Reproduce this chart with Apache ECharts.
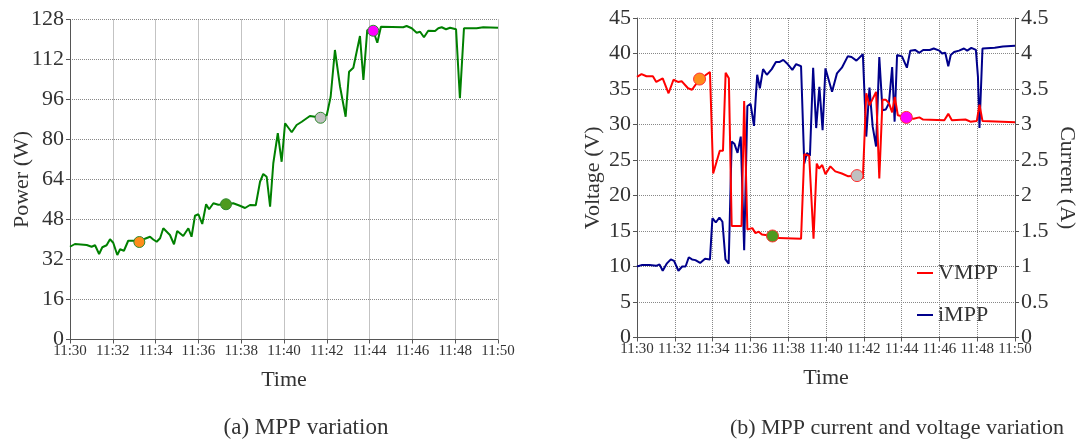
<!DOCTYPE html>
<html>
<head>
<meta charset="utf-8">
<script src="https://cdn.jsdelivr.net/npm/echarts@6/dist/echarts.min.js"></script>
<style>html,body{margin:0;padding:0;background:#fff}#c{width:1079px;height:440px}</style>
</head>
<body>
<div id="c"></div>
<script>
// minutes after 11:30
const xTicks = [0,2,4,6,8,10,12,14,16,18,20];
const powerTime = [0,0.23,0.78,1.01,1.17,1.36,1.51,1.71,1.87,2.02,2.21,2.34,2.52,2.72,2.96,3.24,3.5,3.74,3.89,4.05,4.21,4.36,4.67,4.86,5.01,5.29,5.53,5.68,5.84,6.0,6.18,6.36,6.5,6.7,6.93,7.29,7.63,7.94,8.18,8.41,8.68,8.88,9.03,9.19,9.35,9.5,9.71,9.89,10.05,10.36,10.59,10.83,11.21,11.45,11.71,12.0,12.18,12.38,12.62,12.88,13.04,13.24,13.55,13.71,13.89,14.17,14.36,14.53,15.57,15.73,15.97,16.2,16.36,16.54,16.74,17.06,17.21,17.37,17.57,17.76,18.04,18.22,18.41,19.0,19.31,20];
const power = [37.1,38.2,37.8,37.1,37.7,34.2,36.9,37.7,40.1,38.7,33.8,36.1,35.5,39.5,39.5,39.0,40.3,41.1,40.0,39.1,40.5,44.5,41.8,38.1,43.4,41.4,44.5,41.1,49.5,50.1,46.2,54.1,52.1,54.5,53.9,54.1,54.5,53.5,52.6,53.8,53.7,63.1,66.2,65.1,53.1,70.5,82.5,71.1,86.5,82.9,85.8,87.1,89.4,89.1,88.7,89.8,97.1,115.8,101.1,89.1,107.1,108.7,121.4,103.8,123.8,123.5,118.7,125.1,124.9,125.4,124.5,122.7,123.1,120.9,123.5,123.4,124.5,124.9,124.1,124.7,124.1,96.5,124.5,124.5,124.9,124.7];

const vTime = [0,0.24,0.5,0.84,1.02,1.36,1.67,1.93,2.17,2.36,2.7,2.91,3.31,3.6,3.86,4.03,4.38,4.55,4.69,4.86,5.01,5.53,5.67,5.84,6.1,6.27,6.44,6.61,7.17,7.48,8.68,8.85,9.11,9.34,9.51,9.63,9.8,9.97,10.23,10.49,10.84,11.18,11.64,11.95,12.13,12.3,12.65,12.82,12.99,13.16,13.33,13.5,13.64,13.8,14.25,14.63,14.94,15.14,16.26,16.47,16.66,17.38,17.64,17.98,18.12,18.28,20];
const vmpp = [36.7,37.1,36.8,36.8,36.0,36.5,34.4,36.3,36.0,36.1,35.1,34.9,36.4,36.9,37.4,23.1,26.3,26.3,37.3,36.5,15.7,15.7,33.3,15.2,15.4,14.7,14.9,14.5,14.3,14.0,13.9,25.8,25.6,13.9,24.5,23.8,24.3,23.0,24.1,23.4,23.1,22.7,22.8,22.4,34.4,32.7,34.6,22.4,33.5,33.5,33.0,31.7,33.9,31.3,31.0,30.8,31.0,30.7,30.6,31.5,30.6,30.7,30.4,30.5,32.8,30.5,30.3];

const iTime = [0,0.24,0.67,1.02,1.19,1.36,1.57,1.79,1.96,2.19,2.39,2.57,2.74,2.91,3.09,3.34,3.6,3.86,3.99,4.17,4.36,4.52,4.68,4.85,5.01,5.15,5.32,5.49,5.67,5.84,6.01,6.19,6.36,6.5,6.67,6.87,7.13,7.35,7.53,7.74,7.94,8.22,8.42,8.68,8.85,8.99,9.15,9.32,9.48,9.65,9.82,9.97,10.32,10.58,10.84,11.15,11.35,11.61,11.95,12.13,12.3,12.47,12.65,12.82,12.99,13.16,13.33,13.5,13.63,13.76,14.02,14.28,14.46,14.71,14.94,15.14,15.49,15.7,16.0,16.14,16.31,16.47,16.6,16.78,17.04,17.3,17.47,17.69,17.93,18.04,18.12,18.28,18.93,19.36,20];
const impp = [1.00,1.02,1.02,1.01,1.03,0.94,1.04,1.10,1.08,0.94,1.00,1.00,1.13,1.10,1.09,1.05,1.11,1.10,1.68,1.62,1.69,1.63,1.10,1.04,2.76,2.73,2.60,2.83,1.23,3.26,3.29,2.98,3.70,3.51,3.78,3.70,3.78,3.88,3.88,3.91,3.86,3.77,3.85,3.82,2.45,2.60,2.56,3.80,2.95,3.53,2.92,3.79,3.46,3.72,3.80,3.96,3.95,3.90,3.99,2.83,3.52,2.97,2.69,3.95,3.20,3.21,3.30,3.81,3.04,3.98,3.96,3.80,4.04,4.05,4.01,4.05,4.05,4.07,4.04,4.00,4.01,3.82,3.98,4.02,4.04,4.07,4.04,4.08,4.05,3.67,2.95,4.07,4.08,4.10,4.11];

const markerColors = ['#ff8c1a','#4e9a1f','#c0c0c0','#ff00ff'];
const pMarkTime = [3.24,7.29,11.71,14.17];
const pMarkVal = [39.0,54.1,88.7,123.5];
const vMarkTime = [3.31,7.17,11.64,14.25];
const vMarkVal = [36.4,14.3,22.8,31.0];

const FONT = 'Liberation Serif';
const TXT = '#333';
const zip = (a,b) => a.map((v,i)=>[v,b[i]]);
const fmtTime = v => { const m = 30 + v; return '11:' + (m < 10 ? '0'+m : m); };

const grid = [
  {left:70, top:19.5, width:428, height:320},
  {left:637, top:18, width:386, height:319.5}
];
function xAx(gi){
  return {type:'value', gridIndex:gi, min:0, max:20, interval:2,
    name:'Time', nameLocation:'middle', nameGap:30, nameMoveOverlap:false,
    nameTextStyle:{fontFamily:FONT, fontSize:22, color:TXT},
    axisLine:{show:true, lineStyle:{color:'#555', width:1}},
    axisTick:{show:true, length:4, lineStyle:{color:'#555'}},
    axisLabel:{formatter:fmtTime, fontFamily:FONT, fontSize:15, color:TXT, margin:4},
    splitLine:{show:true, lineStyle:{color:'#888', type:'dotted', width:1}}};
}
const yBase = {type:'value',
  axisLine:{show:true, lineStyle:{color:'#555', width:1}},
  axisTick:{show:true, length:4, lineStyle:{color:'#555'}},
  axisLabel:{fontFamily:FONT, fontSize:22, color:TXT, margin:6},
  nameLocation:'middle', nameMoveOverlap:false, nameTextStyle:{fontFamily:FONT, fontSize:22, color:TXT},
  splitLine:{show:true, lineStyle:{color:'#888', type:'dotted', width:1}}};

const chart = echarts.init(document.getElementById('c'), null, {renderer:'canvas'});
chart.setOption({
  animation:false,
  backgroundColor:'#fff',
  grid: grid,
  xAxis:[xAx(0), xAx(1)],
  yAxis:[
    Object.assign({}, yBase, {gridIndex:0, min:0, max:128, interval:16, name:'Power (W)', nameGap:37}),
    Object.assign({}, yBase, {gridIndex:1, min:0, max:45, interval:5, name:'Voltage (V)', nameGap:33}),
    Object.assign({}, yBase, {gridIndex:1, min:0, max:4.5, interval:0.5, position:'right', name:'Current (A)', nameGap:41, nameRotate:-90,
      splitLine:{show:false}})
  ],
  legend:{data:['VMPP','iMPP'], orient:'vertical', left:912, top:257, icon:'rect', itemWidth:16, itemHeight:2, itemGap:20,
    textStyle:{fontFamily:FONT, fontSize:22, color:TXT}},
  graphic:[
    {type:'text', x:306, y:428, style:{text:'(a) MPP variation', font:'23px "Liberation Serif"', fill:TXT, textAlign:'center', textVerticalAlign:'middle'}},
    {type:'text', x:897, y:428, style:{text:'(b) MPP current and voltage variation', font:'22px "Liberation Serif"', fill:TXT, textAlign:'center', textVerticalAlign:'middle'}}
  ],
  series:[
    {name:'Power', type:'line', xAxisIndex:0, yAxisIndex:0, data:zip(powerTime, power), symbol:'none',
      lineStyle:{color:'#008000', width:2}, itemStyle:{color:'#008000'}},
    {name:'iMPP', type:'line', xAxisIndex:1, yAxisIndex:2, data:zip(iTime, impp), symbol:'none',
      lineStyle:{color:'#00008b', width:2}, itemStyle:{color:'#00008b'}},
    {name:'VMPP', type:'line', xAxisIndex:1, yAxisIndex:1, data:zip(vTime, vmpp), symbol:'none',
      lineStyle:{color:'#ff0000', width:2}, itemStyle:{color:'#ff0000'}},
    {name:'pMarks', type:'scatter', xAxisIndex:0, yAxisIndex:0, symbolSize:11, z:5,
      data: pMarkTime.map((t,i)=>({value:[t,pMarkVal[i]], itemStyle:{color:markerColors[i], opacity:1, borderColor:'#2f8a2f', borderWidth:1}}))},
    {name:'vMarks', type:'scatter', xAxisIndex:1, yAxisIndex:1, symbolSize:12, z:5,
      data: vMarkTime.map((t,i)=>({value:[t,vMarkVal[i]], itemStyle:{color:markerColors[i], opacity:1, borderColor:'#ff3030', borderWidth:1}}))}
  ]
});
</script>
</body>
</html>
